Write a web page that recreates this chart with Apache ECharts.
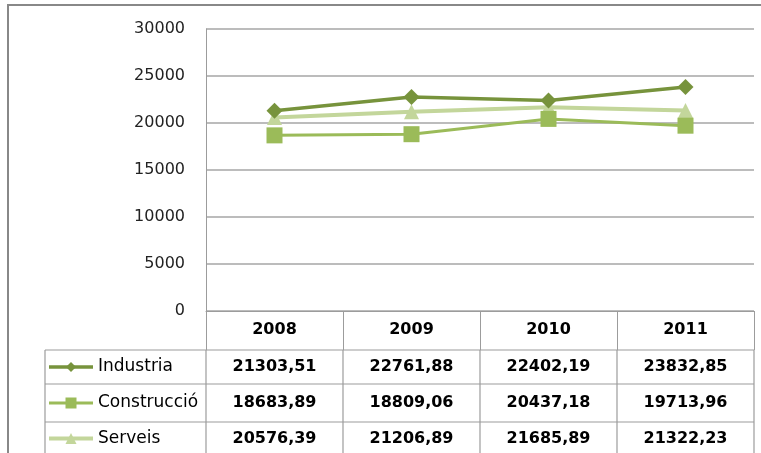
<!DOCTYPE html>
<html>
<head>
<meta charset="utf-8">
<script src="https://cdn.jsdelivr.net/npm/echarts@6/dist/echarts.min.js"></script>
<style>
  html, body { margin: 0; padding: 0; background: #fff; }
  #chart { width: 761px; height: 453px; }
</style>
</head>
<body>
<div id="chart"></div>
<script>
// dades
var years = ['2008', '2009', '2010', '2011']
var industria = [21303.51, 22761.88, 22402.19, 23832.85]
var construccio = [18683.89, 18809.06, 20437.18, 19713.96]
var serveis = [20576.39, 21206.89, 21685.89, 21322.23]

var FONT = 'DejaVu Sans'
var GRID_COLOR = '#a6a6a6'
var TABLE_COLOR = '#9c9c9c'

// series in table order; z keeps squares above triangles like the original
var seriesList = [
  { name: 'Industria', data: industria, color: '#77933c', symbol: 'diamond', size: 16, legendSize: 10, width: 3.5, z: 3 },
  { name: 'Construcció', data: construccio, color: '#9bbb59', symbol: 'rect', size: 16, legendSize: 11, width: 3, z: 4 },
  { name: 'Serveis', data: serveis, color: '#c3d69b', symbol: 'triangle', size: 15, legendSize: 11, width: 4, z: 2 }
]

// table layout (rows under the x axis)
var tableLeft = 45
var legendLineX = [49, 93]
var legendMarkX = 71
var legendTextX = 98
var rowLines = [350, 384, 422]
var tableBottom = 470

var myChart = echarts.init(document.getElementById('chart'))

var option = {
  animation: false,
  grid: { left: 206, right: 7, top: 29, bottom: 142 },
  xAxis: {
    type: 'category',
    data: years,
    boundaryGap: true,
    axisLine: { show: true, lineStyle: { color: TABLE_COLOR, width: 1 } },
    axisTick: { show: true, length: 39, interval: 0, lineStyle: { color: TABLE_COLOR, width: 1 } },
    axisLabel: { margin: 11, fontFamily: FONT, fontSize: 16, fontWeight: 'bold', color: '#000' }
  },
  yAxis: {
    type: 'value',
    min: 0,
    max: 30000,
    interval: 5000,
    axisLine: { show: true, lineStyle: { color: TABLE_COLOR, width: 1 } },
    axisTick: { show: false },
    axisLabel: {
      margin: 21, fontFamily: FONT, fontSize: 16, color: '#222',
      formatter: function (v) { return String(v) }
    },
    splitLine: { show: true, lineStyle: { color: GRID_COLOR, width: 1.5 } }
  },
  series: seriesList.map(function (s) {
    return {
      name: s.name,
      type: 'line',
      data: s.data,
      z: s.z,
      symbol: s.symbol,
      symbolSize: s.size,
      showAllSymbol: true,
      itemStyle: { color: s.color },
      lineStyle: { color: s.color, width: s.width }
    }
  })
}

myChart.setOption(option)

// marker shape for the legend keys in the table
function markerPoints (symbol, cx, cy, r) {
  if (symbol === 'diamond') return [[cx, cy - r], [cx + r, cy], [cx, cy + r], [cx - r, cy]]
  if (symbol === 'rect') return [[cx - r, cy - r], [cx + r, cy - r], [cx + r, cy + r], [cx - r, cy + r]]
  return [[cx, cy - r], [cx + r, cy + r], [cx - r, cy + r]]
}

// taula de dades + vora exterior
function buildGraphics () {
  var els = []
  var half = (myChart.convertToPixel({ xAxisIndex: 0 }, years[1]) - myChart.convertToPixel({ xAxisIndex: 0 }, years[0])) / 2
  var right = myChart.convertToPixel({ xAxisIndex: 0 }, years[years.length - 1]) + half
  // outer frame
  els.push({
    type: 'rect', silent: true,
    shape: { x: 8, y: 5, width: 800, height: 500 },
    style: { fill: 'none', stroke: '#888', lineWidth: 2 }
  })
  // horizontal row lines
  rowLines.forEach(function (y) {
    els.push({
      type: 'line', silent: true,
      shape: { x1: tableLeft, y1: y, x2: right, y2: y },
      style: { stroke: TABLE_COLOR, lineWidth: 1.2 }
    })
  })
  // vertical lines: table left edge + category boundaries
  var xs = [tableLeft]
  for (var i = 0; i < years.length; i++) {
    var c = myChart.convertToPixel({ xAxisIndex: 0 }, years[i])
    if (i === 0) xs.push(c - half)
    xs.push(c + half)
  }
  xs.forEach(function (x) {
    els.push({
      type: 'line', silent: true,
      shape: { x1: x, y1: rowLines[0], x2: x, y2: tableBottom },
      style: { stroke: TABLE_COLOR, lineWidth: 1.2 }
    })
  })
  // rows
  seriesList.forEach(function (s, r) {
    var top = rowLines[r]
    var bottom = r + 1 < rowLines.length ? rowLines[r + 1] : 455
    var cy = (top + bottom) / 2
    els.push({
      type: 'line', silent: true,
      shape: { x1: legendLineX[0], y1: cy, x2: legendLineX[1], y2: cy },
      style: { stroke: s.color, lineWidth: s.width }
    })
    els.push({
      type: 'polygon', silent: true,
      shape: { points: markerPoints(s.symbol, legendMarkX, cy, s.legendSize / 2) },
      style: { fill: s.color }
    })
    els.push({
      type: 'text', silent: true,
      x: legendTextX, y: cy,
      style: { text: s.name, fontFamily: FONT, fontSize: 17, fill: '#000', verticalAlign: 'middle', align: 'left' }
    })
    s.data.forEach(function (v, i) {
      els.push({
        type: 'text', silent: true,
        x: myChart.convertToPixel({ xAxisIndex: 0 }, years[i]), y: cy,
        style: {
          text: v.toFixed(2).replace('.', ','),
          fontFamily: FONT, fontSize: 16, fontWeight: 'bold', fill: '#000',
          align: 'center', verticalAlign: 'middle'
        }
      })
    })
  })
  return els
}

myChart.setOption({ graphic: buildGraphics() })
</script>
</body>
</html>
